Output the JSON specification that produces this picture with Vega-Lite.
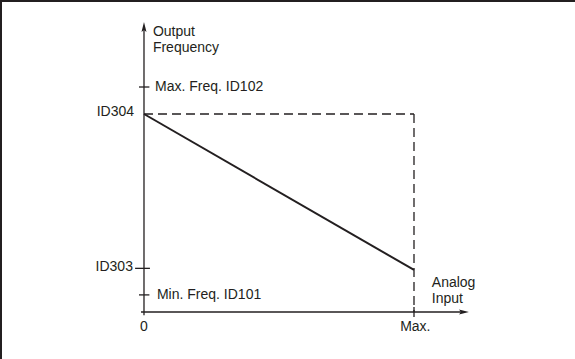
{
  "$schema": "https://vega.github.io/schema/vega-lite/v6.json",
  "width": 575,
  "height": 359,
  "autosize": "none",
  "padding": 0,
  "background": "white",
  "config": {"view": {"stroke": null}},
  "datasets": {
    "frame": [
      {"x": -0.5296, "x2": -0.5296, "y": -20.9, "y2": 138.67},
      {"x": -0.5333, "x2": 1.5963, "y": 138.22, "y2": 138.22}
    ],
    "solid": [
      {"part": "y axis", "x": 0, "x2": 0, "y": -1.5, "y2": 126.0},
      {"part": "x axis", "x": -0.011, "x2": 1.18, "y": 0, "y2": 0},
      {"part": "Max. Freq. tick", "x": -0.0185, "x2": 0.02, "y": 100, "y2": 100},
      {"part": "ID303 tick", "x": -0.033, "x2": 0.022, "y": 19.4, "y2": 19.4},
      {"part": "Min. Freq. tick", "x": -0.0185, "x2": 0.02, "y": 7.6, "y2": 7.6},
      {"part": "Max. tick", "x": 1, "x2": 1, "y": -2.2, "y2": 2.2}
    ],
    "dashed": [
      {"x": 0, "x2": 1, "y": 88, "y2": 88},
      {"x": 1, "x2": 1, "y": 88, "y2": 0}
    ],
    "curve": [
      {"input": 0, "freq": 88},
      {"input": 1, "freq": 18.7}
    ],
    "arrows": [
      {"x": 0, "y": 126.67, "shape": "M0,-1L0.5,1L0,0.6L-0.5,1Z"},
      {"x": 1.185, "y": 0, "shape": "M1,0L-1,-0.5L-0.6,0L-1,0.5Z"}
    ],
    "labelsLeft": [
      {"x": 0.033, "y": 124.4, "text": "Output"},
      {"x": 0.033, "y": 117.3, "text": "Frequency"},
      {"x": 0.041, "y": 100, "text": "Max. Freq. ID102"},
      {"x": 0.048, "y": 7.56, "text": "Min. Freq. ID101"},
      {"x": 1.066, "y": 12.9, "text": "Analog"},
      {"x": 1.066, "y": 5.8, "text": "Input"}
    ],
    "labelsRight": [
      {"x": -0.037, "y": 88.9, "text": "ID304"},
      {"x": -0.041, "y": 20.0, "text": "ID303"}
    ],
    "labelsCenter": [
      {"x": 0, "y": -6.8, "text": "0"},
      {"x": 1.005, "y": -6.8, "text": "Max."}
    ]
  },
  "layer": [
    {
      "data": {"name": "frame"},
      "mark": {"type": "rule", "color": "#231f20", "strokeWidth": 2},
      "encoding": {
        "x": {"field": "x", "type": "quantitative", "scale": {"domain": [-0.5333, 1.5963], "nice": false, "zero": false}, "axis": null},
        "x2": {"field": "x2"},
        "y": {"field": "y", "type": "quantitative", "scale": {"domain": [-20.89, 138.67], "nice": false, "zero": false}, "axis": null},
        "y2": {"field": "y2"}
      }
    },
    {
      "data": {"name": "solid"},
      "mark": {"type": "rule", "color": "#231f20", "strokeWidth": 1.3},
      "encoding": {
        "x": {"field": "x", "type": "quantitative"},
        "x2": {"field": "x2"},
        "y": {"field": "y", "type": "quantitative"},
        "y2": {"field": "y2"}
      }
    },
    {
      "data": {"name": "dashed"},
      "mark": {"type": "rule", "color": "#231f20", "strokeWidth": 1.3, "strokeDash": [9, 5]},
      "encoding": {
        "x": {"field": "x", "type": "quantitative"},
        "x2": {"field": "x2"},
        "y": {"field": "y", "type": "quantitative"},
        "y2": {"field": "y2"}
      }
    },
    {
      "data": {"name": "curve"},
      "mark": {"type": "line", "color": "#231f20", "strokeWidth": 2},
      "encoding": {
        "x": {"field": "input", "type": "quantitative"},
        "y": {"field": "freq", "type": "quantitative"}
      }
    },
    {
      "data": {"name": "arrows"},
      "mark": {"type": "point", "filled": true, "color": "#231f20", "size": 100, "opacity": 1},
      "encoding": {
        "x": {"field": "x", "type": "quantitative"},
        "y": {"field": "y", "type": "quantitative"},
        "shape": {"field": "shape", "type": "nominal", "scale": null}
      }
    },
    {
      "data": {"name": "labelsLeft"},
      "mark": {"type": "text", "align": "left", "baseline": "middle", "font": "Liberation Sans", "fontSize": 14, "color": "#231f20"},
      "encoding": {
        "x": {"field": "x", "type": "quantitative"},
        "y": {"field": "y", "type": "quantitative"},
        "text": {"field": "text"}
      }
    },
    {
      "data": {"name": "labelsRight"},
      "mark": {"type": "text", "align": "right", "baseline": "middle", "font": "Liberation Sans", "fontSize": 14, "color": "#231f20"},
      "encoding": {
        "x": {"field": "x", "type": "quantitative"},
        "y": {"field": "y", "type": "quantitative"},
        "text": {"field": "text"}
      }
    },
    {
      "data": {"name": "labelsCenter"},
      "mark": {"type": "text", "align": "center", "baseline": "middle", "font": "Liberation Sans", "fontSize": 14, "color": "#231f20"},
      "encoding": {
        "x": {"field": "x", "type": "quantitative"},
        "y": {"field": "y", "type": "quantitative"},
        "text": {"field": "text"}
      }
    }
  ]
}
